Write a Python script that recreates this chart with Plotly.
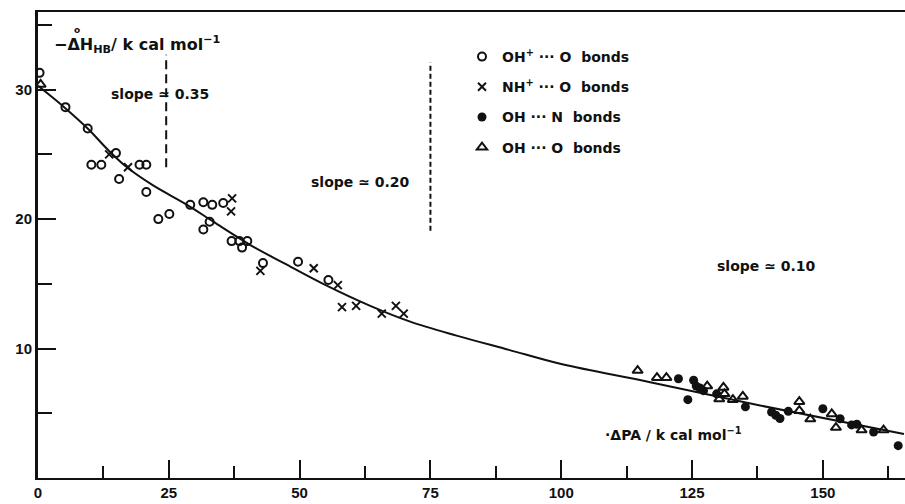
import plotly.graph_objects as go

# Open circles: OH+ ... O bonds
ohp_x = [0.3, 5.25, 9.5, 10.2, 12.1, 14.9, 15.5, 19.4, 20.7, 20.7, 23.0, 25.1, 29.1,
         31.6, 33.3, 35.4, 31.6, 32.8, 37.0, 38.5, 40.0, 39.0, 43.0, 49.7, 55.5]
ohp_y = [31.3, 28.65, 27.0, 24.2, 24.2, 25.1, 23.1, 24.2, 24.2, 22.1, 20.0, 20.4, 21.1,
         21.3, 21.1, 21.25, 19.2, 19.8, 18.3, 18.3, 18.3, 17.8, 16.6, 16.7, 15.3]

# Crosses: NH+ ... O bonds
nhp_x = [13.6, 17.2, 37.1, 36.9, 42.5, 52.7, 57.3, 58.1, 60.8, 65.7, 68.4, 69.9]
nhp_y = [25.0, 24.0, 21.6, 20.6, 16.0, 16.2, 14.9, 13.2, 13.3, 12.7, 13.3, 12.7]

# Filled circles: OH ... N bonds
ohn_x = [122.4, 125.3, 125.8, 124.2, 126.5, 127.2, 129.7, 135.2, 140.2, 141.0, 141.8,
         143.4, 150.0, 153.3, 155.5, 156.5, 159.7, 164.4]
ohn_y = [7.67, 7.55, 7.1, 6.05, 6.95, 6.75, 6.5, 5.5, 5.1, 4.85, 4.6,
         5.15, 5.35, 4.58, 4.1, 4.15, 3.55, 2.5]

# Open triangles: OH ... O bonds
oho_x = [0.5, 114.6, 118.3, 120.1, 127.9, 130.2, 131.0, 131.2, 132.8, 134.7, 145.5,
         145.5, 147.6, 151.7, 152.5, 157.4, 161.6]
oho_y = [30.4, 8.3, 7.75, 7.75, 7.1, 6.1, 7.0, 6.5, 6.05, 6.3, 5.9,
         5.2, 4.55, 4.95, 3.9, 3.7, 3.7]

# Smooth trend curve through the data
curve_x = [0, 5, 9.5, 13.5, 17, 22, 28.5, 33.5, 41, 47, 54.5, 63.5, 71, 80, 90, 100,
           117, 138, 165.5]
curve_y = [30.3, 28.65, 27.0, 25.3, 24.0, 22.6, 21.1, 19.8, 17.9, 16.6, 15.0, 13.3,
           12.1, 11.0, 9.9, 8.8, 7.4, 5.6, 3.4]

x_ticks = [0, 25, 50, 75, 100, 125, 150]
y_ticks = [10, 20, 30]

FONT = "Liberation Sans"
TXT_FONT = "DejaVu Sans"
BLACK = "#111111"

fig = go.Figure()

fig.add_trace(go.Scatter(
    x=curve_x, y=curve_y, mode="lines", line=dict(color=BLACK, width=2, shape="spline"),
    showlegend=False, hoverinfo="skip"))

fig.add_trace(go.Scatter(
    x=ohp_x, y=ohp_y, mode="markers", name="OH<sup>+</sup> ··· O  bonds", legendgroup="a",
    marker=dict(symbol="circle-open", size=8, color=BLACK, line=dict(width=2, color=BLACK))))
fig.add_trace(go.Scatter(
    x=nhp_x, y=nhp_y, mode="markers", name="NH<sup>+</sup> ··· O  bonds", legendgroup="b",
    marker=dict(symbol="x-thin-open", size=8, color=BLACK, line=dict(width=2, color=BLACK))))
fig.add_trace(go.Scatter(
    x=ohn_x, y=ohn_y, mode="markers", name="OH ··· N  bonds", legendgroup="c",
    marker=dict(symbol="circle", size=9, color=BLACK)))
fig.add_trace(go.Scatter(
    x=oho_x, y=oho_y, mode="markers", name="OH ··· O  bonds", legendgroup="d",
    marker=dict(symbol="triangle-up-open", size=9, color=BLACK, line=dict(width=2, color=BLACK))))

# Dashed guides marking the slope regions
fig.add_shape(type="line", x0=24.5, x1=24.5, y0=24.0, y1=32.7,
              line=dict(color=BLACK, width=2, dash="9px,5px"))
fig.add_shape(type="line", x0=75, x1=75, y0=19.1, y1=32.1,
              line=dict(color=BLACK, width=2, dash="5px,3px"))

txt = dict(family=TXT_FONT, size=14, color=BLACK, weight="bold")
ann = [
    dict(x=23.4, y=29.7, text="slope ≃ 0.35"),
    dict(x=61.6, y=22.85, text="slope ≃ 0.20"),
    dict(x=139.3, y=16.4, text="slope ≃ 0.10"),
    dict(x=121.5, y=3.4, text="·ΔPA / k cal mol<sup>−1</sup>"),
]
for a in ann:
    fig.add_annotation(x=a["x"], y=a["y"], text=a["text"], showarrow=False,
                       xref="x", yref="y", font=txt)
fig.add_annotation(x=2.6, y=33.5, xanchor="left",
                   text="−ΔH<sub>HB</sub>/ k cal mol<sup>−1</sup>",
                   showarrow=False, xref="x", yref="y",
                   font=dict(family=TXT_FONT, size=16, color=BLACK, weight="bold"))
fig.add_annotation(x=7.4, y=34.6, text="o", showarrow=False,
                   xref="x", yref="y",
                   font=dict(family=TXT_FONT, size=9, color=BLACK, weight="bold"))

fig.update_layout(
    width=905, height=504,
    margin=dict(l=38, r=0, t=12, b=26),
    paper_bgcolor="white", plot_bgcolor="white",
    font=dict(family=FONT, size=14, color=BLACK, weight="bold"),
    legend=dict(x=(462 - 38) / 867, y=(478 - 41) / 466, xanchor="left", yanchor="top",
                bgcolor="rgba(0,0,0,0)", tracegroupgap=9, itemwidth=30,
                font=dict(family=TXT_FONT, size=14, color=BLACK, weight="bold")),
    xaxis=dict(range=[0, 165.7], showgrid=False, zeroline=False, showline=True,
               linecolor=BLACK, linewidth=2, mirror=True,
               tickvals=x_ticks, ticks="inside", ticklen=18, tickwidth=2, tickcolor=BLACK,
               minor=dict(ticks="inside", ticklen=12, tickwidth=2, dtick=12.5, tick0=0,
                          tickcolor=BLACK),
               tickfont=dict(family=FONT, size=15, color=BLACK, weight="bold")),
    yaxis=dict(range=[0, 36], showgrid=False, zeroline=False, showline=True,
               linecolor=BLACK, linewidth=3,
               tickvals=y_ticks, ticks="inside", ticklen=18, tickwidth=2, tickcolor=BLACK,
               minor=dict(ticks="inside", ticklen=14, tickwidth=2, dtick=5, tick0=0,
                          tickcolor=BLACK),
               tickfont=dict(family=FONT, size=15, color=BLACK, weight="bold")),
)

fig.write_html("out.html")
